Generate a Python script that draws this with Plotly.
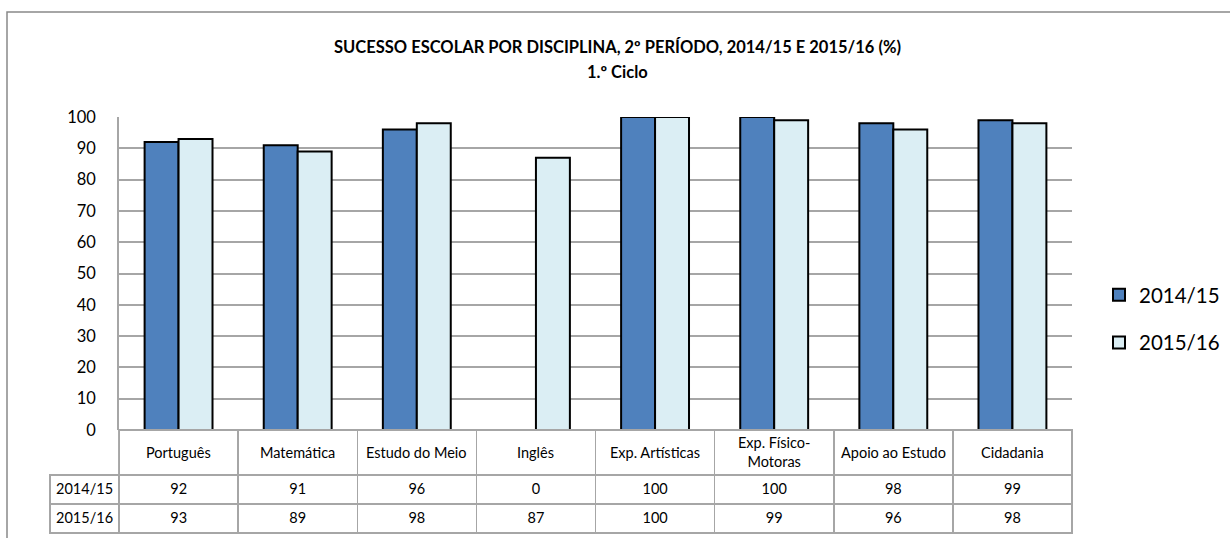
import plotly.graph_objects as go

categories = ["Português", "Matemática", "Estudo do Meio", "Inglês",
              "Exp. Artísticas", "Exp. Físico-Motoras", "Apoio ao Estudo", "Cidadania"]
header_labels = ["Português", "Matemática", "Estudo do Meio", "Inglês",
                 "Exp. Artísticas", "Exp. Físico-<br>Motoras", "Apoio ao Estudo", "Cidadania"]
series_names = ["2014/15", "2015/16"]
values_1415 = [92, 91, 96, 0, 100, 100, 98, 99]
values_1516 = [93, 89, 98, 87, 100, 99, 96, 98]
y_ticks = [0, 10, 20, 30, 40, 50, 60, 70, 80, 90, 100]

W, H = 1230, 538
FONT = "Lato"
GRID = "#A6A6A6"
CLEAR = "rgba(0,0,0,0)"

def px_x(p):
    return p / W

def px_y(p):
    return 1 - p / H

fig = go.Figure()
colors = ["#4F81BD", "#DBEEF4"]
for name, vals, col in zip(series_names, [values_1415, values_1516], colors):
    fig.add_trace(go.Bar(
        x=categories, y=vals, name=name, legendgroup=name,
        marker=dict(color=col, line=dict(color="black", width=[0 if v == 0 else 2 for v in vals])),
        xaxis="x", yaxis="y",
    ))

# data table under the chart (header row holds only borders; labels are annotations)
n = len(categories)
col_values = [series_names] + [[a, b] for a, b in zip(values_1415, values_1516)]
fig.add_trace(go.Table(
    domain=dict(x=[px_x(50), px_x(1072)], y=[0, px_y(430)]),
    columnwidth=[69] + [119] * n,
    header=dict(
        values=[""] * (n + 1),
        height=45,
        align="center",
        line=dict(color=[CLEAR] + [GRID] * n, width=1.5),
        fill=dict(color=[CLEAR] + ["white"] * n),
        font=dict(family=FONT, size=14.5, color="black"),
    ),
    cells=dict(
        values=col_values,
        height=29,
        align="center",
        line=dict(color=GRID, width=1.5),
        fill=dict(color="white"),
        font=dict(family=FONT, size=14.5, color="black"),
    ),
))

annotations = [
    dict(text="<b>SUCESSO ESCOLAR POR DISCIPLINA, 2º PERÍODO, 2014/15 E 2015/16 (%)</b>",
         x=px_x(617), y=px_y(47), xref="paper", yref="paper", yanchor="middle",
         showarrow=False, font=dict(family=FONT, size=16.5, color="black")),
    dict(text="<b>1.º Ciclo</b>",
         x=px_x(617), y=px_y(72), xref="paper", yref="paper", yanchor="middle",
         showarrow=False, font=dict(family=FONT, size=16.5, color="black")),
]
for cat, lab in zip(categories, header_labels):
    annotations.append(dict(text=lab, x=cat, xref="x", y=px_y(452), yref="paper",
                            yanchor="middle", showarrow=False,
                            font=dict(family=FONT, size=14.5, color="black")))

fig.update_layout(
    width=W, height=H,
    margin=dict(l=0, r=0, t=0, b=0, autoexpand=False),
    paper_bgcolor="white", plot_bgcolor="white",
    font=dict(family=FONT, color="black"),
    barmode="group", bargap=0.43, bargroupgap=0,
    showlegend=True,
    legend=dict(x=px_x(1099), y=px_y(319), xanchor="left", yanchor="middle",
                font=dict(family=FONT, size=20.5), tracegroupgap=18, itemwidth=30,
                bgcolor="rgba(0,0,0,0)"),
    xaxis=dict(domain=[px_x(119), px_x(1072)], showticklabels=False,
               showgrid=False, showline=False, ticks="", zeroline=False),
    yaxis=dict(domain=[px_y(430), px_y(117)], range=[0, 100],
               tickvals=y_ticks, showgrid=True, gridcolor=GRID, gridwidth=1.5,
               showline=True, linecolor=GRID, linewidth=1.5, zeroline=False,
               ticks="", ticklabelstandoff=18,
               tickfont=dict(family=FONT, size=16.5, color="black")),
    annotations=annotations,
    shapes=[
        dict(type="rect", xref="paper", yref="paper",
             x0=px_x(7), x1=px_x(1240), y0=px_y(12), y1=px_y(560),
             line=dict(color="#898989", width=1.5), layer="below"),
    ],
)

fig.write_html("out.html", config={"displayModeBar": False},
               post_script="document.body.style.margin='0';")
